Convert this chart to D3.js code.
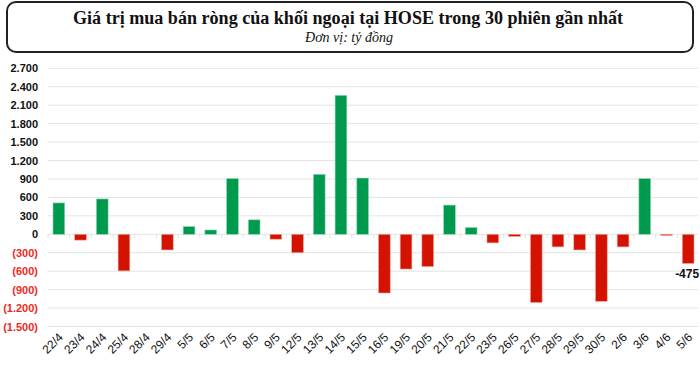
<!DOCTYPE html>
<html>
<head>
<meta charset="utf-8">
<script src="https://cdn.jsdelivr.net/npm/d3@7"></script>
<style>
  body { margin: 0; background: #fff; }
  svg { display: block; }
</style>
</head>
<body>
<div id="chart"></div>
<script>
// Net foreign buy/sell on HOSE, last 30 sessions (billion VND)

const sessions = ["22/4", "23/4", "24/4", "25/4", "28/4", "29/4", "5/5", "6/5", "7/5", "8/5",
  "9/5", "12/5", "13/5", "14/5", "15/5", "16/5", "19/5", "20/5", "21/5", "22/5",
  "23/5", "26/5", "27/5", "28/5", "29/5", "30/5", "2/6", "3/6", "4/6", "5/6"];

const netValues = [510, -95, 575, -595, 0, -255, 125, 70, 905, 235,
  -80, -300, 975, 2260, 915, -955, -565, -525, 475, 110,
  -140, -35, -1110, -205, -255, -1090, -205, 905, -20, -475];

const yTicks = [-1500, -1200, -900, -600, -300, 0, 300, 600, 900, 1200, 1500, 1800, 2100, 2400, 2700];

const width = 700, height = 376;

const svg = d3.select("#chart")
  .append("svg")
  .attr("width", width)
  .attr("height", height);

// title box
svg.append("rect")
  .attr("x", 7).attr("y", 2)
  .attr("width", 686).attr("height", 50)
  .attr("rx", 9)
  .attr("fill", "#fff")
  .attr("stroke", "#222")
  .attr("stroke-width", 2);

svg.append("text")
  .attr("x", 348).attr("y", 24)
  .attr("text-anchor", "middle")
  .attr("font-family", "'Liberation Serif', serif")
  .attr("font-weight", "bold")
  .attr("font-size", 18)
  .attr("textLength", 550)
  .attr("lengthAdjust", "spacingAndGlyphs")
  .attr("fill", "#111")
  .text("Giá trị mua bán ròng của khối ngoại tại HOSE trong 30 phiên gần nhất");

svg.append("text")
  .attr("x", 349).attr("y", 42)
  .attr("text-anchor", "middle")
  .attr("font-family", "'Liberation Serif', serif")
  .attr("font-style", "italic")
  .attr("font-size", 14)
  .attr("fill", "#111")
  .text("Đơn vị: tỷ đồng");

const x = d3.scaleBand()
  .domain(sessions)
  .range([48, 699])
  .paddingInner(0.46)
  .paddingOuter(0.23);

const y = d3.scaleLinear()
  .domain([-1500, 2700])
  .range([326.5, 68.3]);

const vn = d3.formatLocale({ decimal: ",", thousands: ".", grouping: [3], currency: ["", ""] });
const fmt = vn.format(",.0f");
const tickText = v => v < 0 ? "(" + fmt(-v) + ")" : fmt(v);

// gridlines
svg.append("g")
  .selectAll("line")
  .data(yTicks)
  .join("line")
  .attr("x1", 48).attr("x2", 698)
  .attr("y1", d => y(d)).attr("y2", d => y(d))
  .attr("stroke", "#e3e3e3")
  .attr("stroke-width", 1);

// small ticks on the zero line between sessions
svg.append("g")
  .selectAll("line")
  .data(sessions)
  .join("line")
  .attr("x1", d => x(d) - x.step() * x.paddingInner() / 2)
  .attr("x2", d => x(d) - x.step() * x.paddingInner() / 2)
  .attr("y1", y(0)).attr("y2", y(0) + 4)
  .attr("stroke", "#e3e3e3");

// y axis labels
const yAxis = svg.append("g")
  .attr("transform", "translate(48,0)")
  .call(d3.axisLeft(y).tickValues(yTicks).tickFormat(tickText).tickSize(0).tickPadding(10));
yAxis.select(".domain").remove();
yAxis.selectAll("text")
  .attr("font-family", "'Liberation Sans', Arial, sans-serif")
  .attr("font-weight", "bold")
  .attr("font-size", 11)
  .attr("fill", d => d < 0 ? "#f0281e" : "#111");

// bars
svg.append("g")
  .selectAll("rect")
  .data(sessions)
  .join("rect")
  .attr("x", (d) => x(d))
  .attr("width", x.bandwidth())
  .attr("y", (d, i) => y(Math.max(0, netValues[i])))
  .attr("height", (d, i) => Math.abs(y(netValues[i]) - y(0)))
  .attr("fill", (d, i) => netValues[i] >= 0 ? "#009a4e" : "#d41200")
  .attr("stroke", (d, i) => netValues[i] >= 0 ? "#8fd6b0" : "#f2a49c")
  .attr("stroke-width", 0.6);

// x axis labels
const xAxis = svg.append("g")
  .attr("transform", "translate(0,335)")
  .call(d3.axisBottom(x).tickSize(0).tickPadding(0));
xAxis.select(".domain").remove();
xAxis.selectAll("text")
  .attr("font-family", "'Liberation Sans', Arial, sans-serif")
  .attr("font-size", 12)
  .attr("fill", "#111")
  .attr("text-anchor", "end")
  .attr("dy", "0.35em")
  .attr("transform", "translate(2,0) rotate(-45)");

// last value label
const last = sessions.length - 1;
svg.append("text")
  .attr("x", x(sessions[last]) + x.bandwidth() / 2 - 1)
  .attr("y", y(netValues[last]) + 15)
  .attr("text-anchor", "middle")
  .attr("font-family", "'Liberation Sans', Arial, sans-serif")
  .attr("font-weight", "bold")
  .attr("font-size", 12)
  .attr("fill", "#111")
  .text(netValues[last]);
</script>
</body>
</html>
